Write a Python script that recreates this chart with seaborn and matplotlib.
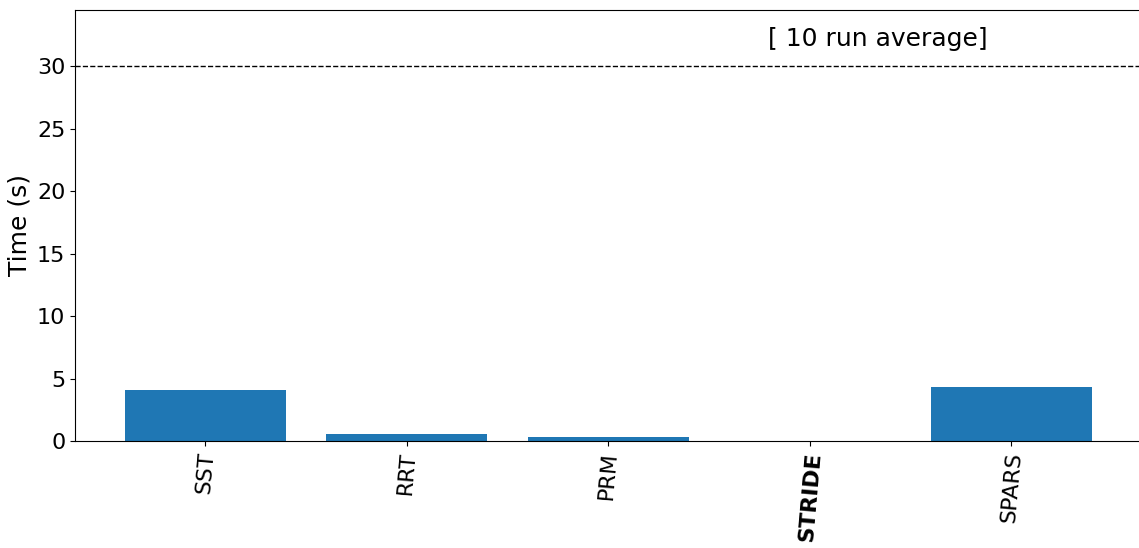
import matplotlib
matplotlib.use("Agg")
import matplotlib.pyplot as plt
import seaborn as sns
import pandas as pd

planners = ["SST", "RRT", "PRM", "STRIDE", "SPARS"]
times = [4.08, 0.56, 0.32, 0.03, 4.32]
time_limit = 30
note = "[ 10 run average]"

plt.rcParams["font.family"] = ["DejaVu Sans"]
plt.rcParams["font.size"] = 16

df = pd.DataFrame({"planner": planners, "time": times})

fig = plt.figure(figsize=(11.39, 5.48), dpi=100)
ax = fig.add_axes([75 / 1139, 107 / 548, 1066.6 / 1139, 431 / 548])

sns.barplot(data=df, x="planner", y="time", color="#1f77b4", saturation=1,
            width=0.8, ax=ax, errorbar=None)
ax.set_xlim(-0.646, 4.646)
ax.set_ylim(0, time_limit * 1.15)
ax.axhline(time_limit, color="black", linestyle="--", linewidth=1)
ax.text(3.339, 32.2, note, fontsize=18, ha="center", va="center")

ax.set_xlabel("")
ax.set_ylabel("Time (s)", fontsize=18)
ax.tick_params(axis="y", labelsize=16)
ax.tick_params(axis="x", labelsize=16, rotation=85)
for lbl in ax.get_xticklabels():
    if lbl.get_text() == "STRIDE":
        lbl.set_fontweight("bold")

fig.savefig("out.png", dpi=100)
